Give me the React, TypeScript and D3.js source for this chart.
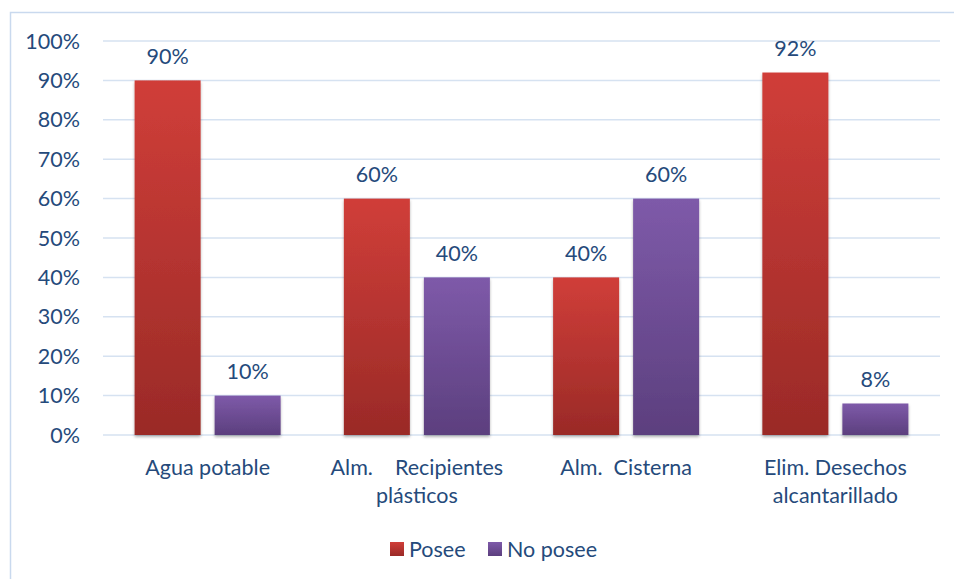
import React from 'react';
import * as d3 from 'd3';

const categories = ['Agua potable', 'Alm. Recipientes plásticos', 'Alm. Cisterna', 'Elim. Desechos alcantarillado'];
const categoryLines = [['Agua potable'], ['Alm.    Recipientes', 'plásticos'], ['Alm.  Cisterna'], ['Elim. Desechos', 'alcantarillado']];
const seriesNames = ['Posee', 'No posee'];
const poseeValues = [0.9, 0.6, 0.4, 0.92];
const noPoseeValues = [0.1, 0.4, 0.6, 0.08];
const yTicks = [0, 0.1, 0.2, 0.3, 0.4, 0.5, 0.6, 0.7, 0.8, 0.9, 1];

const width = 954;
const height = 579;
const margin = { top: 41, right: 14, bottom: 144, left: 103 };
const textColor = '#254a7b';
const font = 'Lato, "Open Sans", sans-serif';
const fontSize = 21.5;

const App: React.FC = () => {
  const x0 = d3.scaleBand<string>()
    .domain(categories)
    .range([margin.left, width - margin.right])
    .padding(0);

  const x1 = d3.scaleBand<string>()
    .domain(seriesNames)
    .range([0, x0.bandwidth()])
    .paddingInner(0.175)
    .paddingOuter(0.395);

  const y = d3.scaleLinear()
    .domain([0, 1])
    .range([height - margin.bottom, margin.top]);

  const fmt = d3.format('.0%');
  const series = [
    { name: seriesNames[0], values: poseeValues, grad: 'gradRed' },
    { name: seriesNames[1], values: noPoseeValues, grad: 'gradPurple' },
  ];

  return (
    <svg width={width} height={height} style={{ position: 'absolute', left: 0, top: 0, background: '#fff' }}>
      <defs>
        <linearGradient id="gradRed" x1="0" y1="0" x2="0" y2="1">
          <stop offset="0%" stopColor="#d03e39" />
          <stop offset="100%" stopColor="#9a2a27" />
        </linearGradient>
        <linearGradient id="gradPurple" x1="0" y1="0" x2="0" y2="1">
          <stop offset="0%" stopColor="#7e5aa9" />
          <stop offset="100%" stopColor="#5c3f7e" />
        </linearGradient>
        <filter id="shadow" x="-20%" y="-5%" width="140%" height="115%">
          <feDropShadow dx="0" dy="2" stdDeviation="1.6" floodColor="#000" floodOpacity="0.3" />
        </filter>
      </defs>

      {/* outer chart border */}
      <rect x={10.5} y={12.5} width={960} height={600} fill="none" stroke="#c9d9ee" strokeWidth={1.5} />

      {/* gridlines */}
      {yTicks.map(t => (
        <line key={t} x1={margin.left} x2={width - margin.right} y1={y(t)} y2={y(t)}
          stroke="#d6e2f1" strokeWidth={1.5} />
      ))}

      {/* y tick labels */}
      {yTicks.map(t => (
        <text key={'l' + t} x={80} y={y(t)} dy="0.35em" textAnchor="end"
          fontFamily={font} fontSize={fontSize} fill={textColor}>{fmt(t)}</text>
      ))}

      {/* bars */}
      {series.map(s => (
        <g key={s.name}>
          {categories.map((c, i) => {
            const bx = (x0(c) || 0) + (x1(s.name) || 0);
            const by = y(s.values[i]);
            return (
              <g key={c}>
                <rect x={bx} y={by} width={x1.bandwidth()} height={y(0) - by}
                  fill={`url(#${s.grad})`} filter="url(#shadow)" />
                <text x={bx + x1.bandwidth() / 2} y={by - 24} dy="0.35em" textAnchor="middle"
                  fontFamily={font} fontSize={fontSize} fill={textColor}>{fmt(s.values[i])}</text>
              </g>
            );
          })}
        </g>
      ))}

      {/* category labels */}
      {categories.map((c, i) => (
        <text key={c} x={(x0(c) || 0) + x0.bandwidth() / 2} y={467} textAnchor="middle"
          fontFamily={font} fontSize={fontSize} fill={textColor} style={{ whiteSpace: 'pre' }}>
          {categoryLines[i].map((line, j) => (
            <tspan key={j} x={(x0(c) || 0) + x0.bandwidth() / 2} dy={j === 0 ? '0.35em' : 28}>{line}</tspan>
          ))}
        </text>
      ))}

      {/* legend */}
      <g>
        <rect x={390} y={542} width={14} height={14} fill="url(#gradRed)" />
        <text x={409} y={549} dy="0.35em" fontFamily={font} fontSize={fontSize} fill={textColor}>{seriesNames[0]}</text>
        <rect x={488} y={542} width={14} height={14} fill="url(#gradPurple)" />
        <text x={507} y={549} dy="0.35em" fontFamily={font} fontSize={fontSize} fill={textColor}>{seriesNames[1]}</text>
      </g>
    </svg>
  );
};

export default App;
